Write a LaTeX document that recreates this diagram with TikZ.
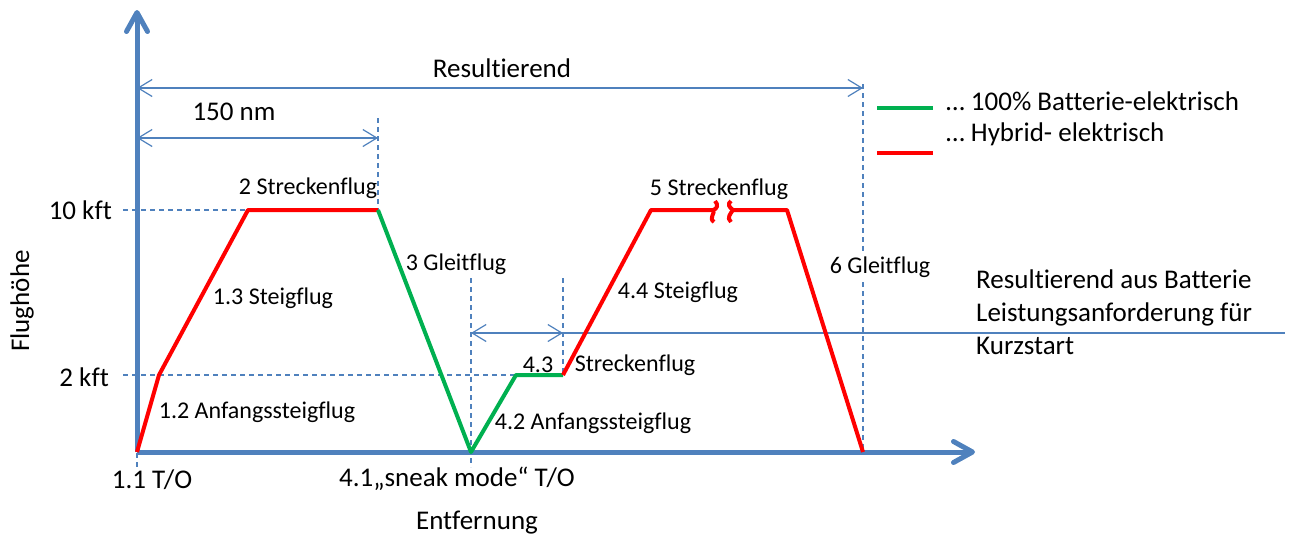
\documentclass[tikz,border=0pt]{standalone}
\usepackage{fontspec}
\setmainfont{Carlito}[RawFeature={-liga}]
\usetikzlibrary{arrows.meta}
\definecolor{axisblue}{RGB}{79,129,189}
\definecolor{hybridred}{RGB}{255,0,0}
\definecolor{battgreen}{RGB}{0,176,80}
\tikzset{
  axisline/.style={draw=axisblue, line width=5pt, line join=round,
    -{Straight Barb[length=19pt,width=21pt,line join=round,line cap=round]}},
  dimline/.style={draw=axisblue, line width=1.2pt,
    {Straight Barb[length=14pt,width=17pt]}-{Straight Barb[length=14pt,width=17pt]}},
  guide/.style={draw=axisblue, line width=1.2pt, dash pattern=on 5pt off 4pt},
  hybrid/.style={draw=hybridred, line width=4pt, line join=round},
  battery/.style={draw=battgreen, line width=4pt, line join=round},
  biglabel/.style={font=\fontsize{27}{33}\selectfont, inner sep=1pt},
  smalllabel/.style={font=\fontsize{24}{28}\selectfont, inner sep=1pt},
}
\begin{document}
\begin{tikzpicture}[x=1pt,y=-1pt]
\useasboundingbox (0,0) rectangle (1294,541);

% key points of the flight profile
\coordinate (to1) at (137,452);
\coordinate (ic1) at (159,375);
\coordinate (tc1) at (248,210);
\coordinate (td1) at (378,210);
\coordinate (to2) at (471,452);
\coordinate (ic2) at (516,375);
\coordinate (cr2) at (563,375);
\coordinate (tc2) at (651,210);
\coordinate (brkL) at (713,210);
\coordinate (brkR) at (733,210);
\coordinate (td2) at (787,210);
\coordinate (ld2) at (863,452);

% guide lines
\coordinate (g10a) at (123,210);
\coordinate (g2a) at (123,375);
\coordinate (vA0) at (137,84);
\coordinate (vA1) at (137,467);
\coordinate (vB0) at (378,118);
\coordinate (vC0) at (471,278);
\coordinate (vC1) at (471,467);
\coordinate (vD0) at (563,278);
\coordinate (vE0) at (863,84);
\draw[guide] (g10a) -- (tc1);
\draw[guide] (g2a) -- (ic2);
\draw[guide] (vA0) -- (vA1);
\draw[guide] (vB0) -- (td1);
\draw[guide] (vC0) -- (vC1);
\draw[guide] (vD0) -- (cr2);
\draw[guide] (vE0) -- (ld2);

% dimension arrows
\coordinate (dR0) at (137,88);
\coordinate (dR1) at (863,88);
\coordinate (dS0) at (137,138);
\coordinate (dS1) at (378,138);
\coordinate (dK0) at (471,333);
\coordinate (dK1) at (563,333);
\coordinate (dK2) at (1285,333);
\draw[dimline] (dR0) -- (dR1);
\draw[dimline] (dS0) -- (dS1);
\draw[dimline] (dK0) -- (dK1);
\draw[draw=axisblue, line width=1.2pt] (dK1) -- (dK2);

% axes
\coordinate (xend) at (975,452);
\coordinate (yend) at (137,10);
\draw[axisline] (to1) -- (xend);
\draw[axisline] (to1) -- (yend);

% flight profile
\draw[hybrid] (to1) -- (ic1) -- (tc1) -- (td1);
\draw[battery] (td1) -- (to2) -- (ic2) -- (cr2);
\draw[hybrid] (cr2) -- (tc2) -- (brkL)
  .. controls (717,209) and (719,205) .. (715,201);
\draw[hybrid] (brkL) .. controls (716,213) and (708,218) .. (714,222);
\draw[hybrid] (brkR) .. controls (729,207) and (727,204) .. (731,201);
\draw[hybrid] (brkR) .. controls (731,213) and (726,218) .. (731,222);
\draw[hybrid] (brkR) -- (td2) -- (ld2);

% legend
\coordinate (lg0) at (877,108);
\coordinate (lg1) at (933,108);
\coordinate (lr0) at (877,153);
\coordinate (lr1) at (933,153);
\draw[battery] (lg0) -- (lg1);
\draw[hybrid] (lr0) -- (lr1);
\node[biglabel, anchor=west] (legG) at (945,101) {… 100\% Batterie-elektrisch};
\node[biglabel, anchor=west] (legR) at (945,134) {… Hybrid- elektrisch};

% labels
\node[biglabel] (lRes) at (502,68) {Resultierend};
\node[biglabel] (l150) at (234,112) {150 nm};
\node[biglabel, anchor=east] (l10) at (113,210) {10 kft};
\node[biglabel, anchor=east] (l2) at (110,377) {2 kft};
\node[biglabel, rotate=90] (lAlt) at (22,301) {Flughöhe};
\node[biglabel] (lT1) at (152,480) {1.1 T/O};
\node[biglabel] (lT4) at (457,479) {4.1„sneak mode“ T/O};
\node[biglabel] (lDist) at (477,523) {Entfernung};
\node[smalllabel] (l2s) at (308,188) {2 Streckenflug};
\node[smalllabel] (l13) at (273,298) {1.3 Steigflug};
\node[smalllabel] (l12) at (257,412) {1.2 Anfangssteigflug};
\node[smalllabel] (l3) at (456,264) {3 Gleitflug};
\node[smalllabel] (l44) at (678,292) {4.4 Steigflug};
\node[smalllabel] (l43) at (538,365) {4.3};
\node[smalllabel] (l43s) at (635,365) {Streckenflug};
\node[smalllabel] (l42) at (593,423) {4.2 Anfangssteigflug};
\node[smalllabel] (l5) at (719,189) {5 Streckenflug};
\node[smalllabel, fill=white, inner ysep=4pt] (l6) at (880,267) {6 Gleitflug};
\node[biglabel, anchor=north west, align=left, font=\fontsize{27}{33}\selectfont]
  (lNote) at (975,269) {Resultierend aus Batterie\\Leistungsanforderung für\\Kurzstart};
\end{tikzpicture}
\end{document}
